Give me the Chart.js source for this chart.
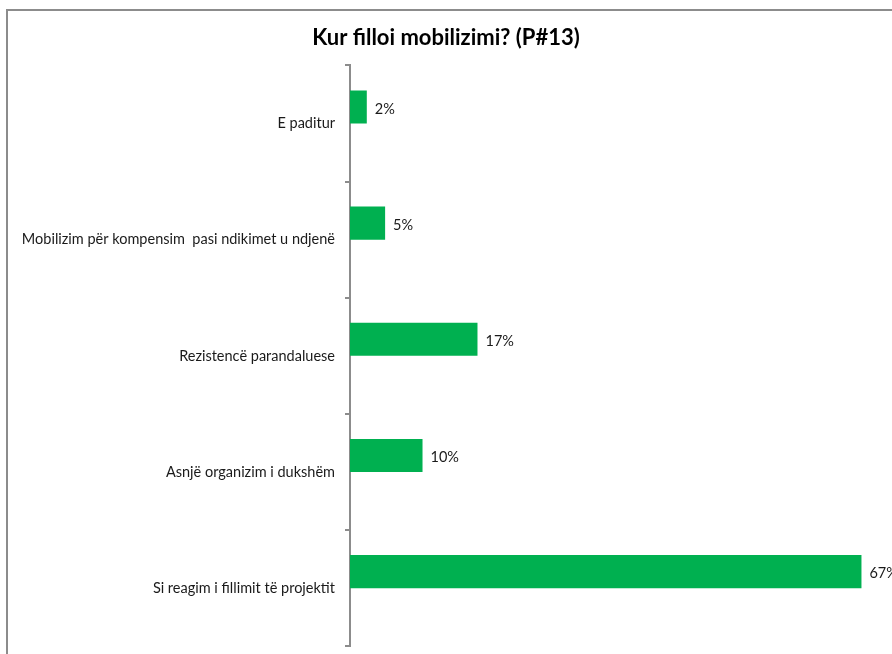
<!DOCTYPE html>
<html>
<head>
<meta charset="utf-8">
<script src="https://cdn.jsdelivr.net/npm/chart.js@4"></script>
<style>
    html, body { margin: 0; padding: 0; background: #fff; overflow: hidden; }
    #wrap { position: relative; width: 892px; height: 654px; overflow: hidden; }
</style>
</head>
<body>
<div id="wrap"><canvas id="mobilizimChart" width="892" height="665"></canvas></div>
<script>
const categories = [
    'E paditur',
    'Mobilizim për kompensim  pasi ndikimet u ndjenë',
    'Rezistencë parandaluese',
    'Asnjë organizim i dukshëm',
    'Si reagim i fillimit të projektit'
];
const shares = [2.2, 4.6, 16.7, 9.5, 67];
const emptySeries = [null, null, null, null, null];

// draws the "NN%" label to the right of each bar
const barLabels = {
    id: 'barLabels',
    afterDatasetsDraw(chart) {
        const ctx = chart.ctx;
        const meta = chart.getDatasetMeta(0);
        ctx.save();
        ctx.font = '14.5px Lato';
        ctx.fillStyle = '#1a1a1a';
        ctx.textBaseline = 'middle';
        meta.data.forEach((bar, i) => {
            ctx.fillText(Math.round(shares[i]) + '%', bar.x + 8, bar.y + 2);
        });
        ctx.restore();
    }
};

// outer chart frame, right and bottom edges fall outside the picture
const frame = {
    id: 'frame',
    beforeDraw(chart) {
        const ctx = chart.ctx;
        ctx.save();
        ctx.strokeStyle = '#8c8c8c';
        ctx.lineWidth = 2;
        ctx.strokeRect(7, 10, 1000, 1000);
        ctx.restore();
    }
};

new Chart(document.getElementById('mobilizimChart'), {
    type: 'bar',
    data: {
        labels: categories,
        datasets: [{
            data: shares,
            backgroundColor: '#00b050',
            borderWidth: 0,
            barPercentage: 1,
            categoryPercentage: 0.57
        }, {
            data: emptySeries,
            backgroundColor: '#00b050',
            barPercentage: 1,
            categoryPercentage: 0.57
        }]
    },
    options: {
        responsive: false,
        animation: false,
        indexAxis: 'y',
        layout: { padding: 0 },
        plugins: {
            legend: { display: false },
            tooltip: { enabled: false },
            title: {
                display: true,
                text: 'Kur filloi mobilizimi? (P#13)',
                color: '#000',
                font: { family: 'Lato', size: 22, weight: 'bold' },
                padding: { top: 25, bottom: 14 }
            }
        },
        scales: {
            x: {
                display: false,
                min: 0,
                max: 71
            },
            y: {
                afterFit: (scale) => { scale.width = 350; },
                border: { display: true, color: '#8c8c8c', width: 2 },
                grid: {
                    offset: true,
                    drawOnChartArea: false,
                    drawTicks: true,
                    tickLength: 5,
                    color: '#8c8c8c',
                    lineWidth: 2
                },
                ticks: {
                    color: '#1a1a1a',
                    padding: 10,
                    font: { family: 'Lato', size: 14.5 }
                }
            }
        }
    },
    plugins: [frame, barLabels]
});
</script>
</body>
</html>
